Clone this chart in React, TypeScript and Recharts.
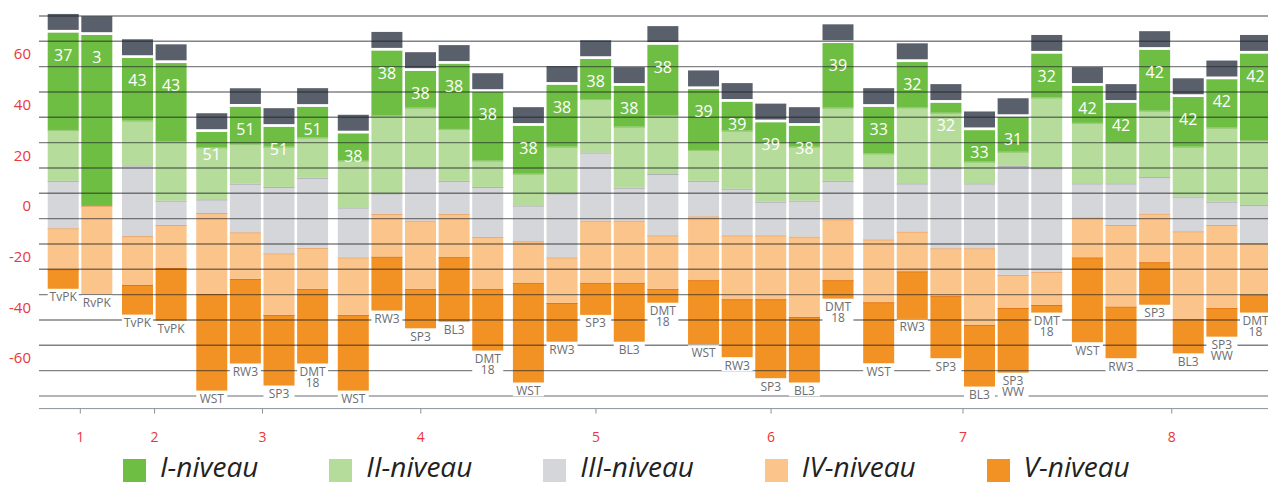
import React from 'react'
import { BarChart, Bar, XAxis, YAxis, CartesianGrid, LabelList } from 'recharts'

// bars per group (x-axis categories 1..8)
const groupSizes = [2, 2, 4, 5, 5, 5, 6, 6]
const groupNames = ['1', '2', '3', '4', '5', '6', '7', '8']

const siteLabels = [
    'TvPK', 'RvPK', 'TvPK', 'TvPK',
    'WST', 'RW3', 'SP3', 'DMT 18',
    'WST', 'RW3', 'SP3', 'BL3', 'DMT 18',
    'WST', 'RW3', 'SP3', 'BL3', 'DMT 18',
    'WST', 'RW3', 'SP3', 'BL3', 'DMT 18',
    'WST', 'RW3', 'SP3', 'BL3', 'SP3 WW', 'DMT 18',
    'WST', 'RW3', 'SP3', 'BL3', 'SP3 WW', 'DMT 18'
]

const scoreLabels = [
    37, 3, 43, 43,
    51, 51, 51, 51,
    38, 38, 38, 38, 38,
    38, 38, 38, 38, 38,
    39, 39, 39, 38, 39,
    33, 32, 32, 33, 31, 32,
    42, 42, 42, 42, 42, 42
]

// upper edge of each level (I = top of stack), bottom = lower edge of V
const topI = [
    68.4, 67.5, 58.4, 56.4,
    29.2, 39.1, 31.2, 39.1,
    28.6, 61.3, 53.3, 56.1, 45.0,
    31.6, 47.8, 58.0, 47.4, 63.6,
    46.1, 41.1, 33.0, 31.6, 64.3,
    39.1, 56.8, 40.7, 29.9, 35.1, 60.1,
    47.4, 40.7, 61.6, 43.0, 50.0, 60.1
]
const topII = [
    30.0, 0, 33.7, 25.6,
    23.1, 24.5, 23.4, 27.0,
    17.9, 35.8, 38.8, 30.4, 17.9,
    12.7, 23.4, 42.2, 31.3, 35.8,
    22.1, 29.7, 25.0, 23.4, 38.8,
    20.7, 38.9, 36.8, 17.5, 21.4, 42.8,
    32.8, 25.0, 37.6, 23.4, 30.9, 25.9
]
const topIII = [
    9.9, 0, 16.0, 2.1,
    2.6, 8.8, 7.5, 11.1,
    -0.6, 5.0, 14.9, 9.9, 7.5,
    0.2, 5.0, 21.1, 7.2, 12.6,
    9.9, 6.8, 1.7, 2.1, 9.9,
    14.9, 8.9, 14.9, 8.9, 15.8, 14.9,
    8.9, 8.9, 11.4, 3.7, 1.7, 0.4
]
const topIV = [
    -8.8, 0, -11.9, -7.5,
    -2.8, -10.4, -18.7, -16.5,
    -20.3, -3.2, -5.8, -3.2, -12.2,
    -13.9, -20.3, -5.8, -5.8, -11.6,
    -4.1, -11.6, -11.6, -12.1, -5.3,
    -13.2, -10.1, -16.7, -16.7, -27.2, -26.0,
    -4.5, -7.5, -3.0, -10.0, -7.5, -14.7
]
const topV = [
    -25.0, -34.9, -31.2, -24.4,
    -34.7, -28.8, -43.0, -32.7,
    -43.0, -20.0, -32.7, -20.2, -32.8,
    -30.3, -38.3, -30.3, -30.3, -32.7,
    -29.3, -36.8, -36.8, -43.8, -29.3,
    -38.0, -25.8, -35.4, -47.0, -40.3, -39.1,
    -20.3, -39.7, -22.2, -44.6, -40.2, -35.0
]
const bottom = [
    -32.7, -34.9, -42.9, -45.3,
    -72.9, -62.2, -70.9, -62.2,
    -72.9, -41.3, -48.3, -45.7, -57.1,
    -69.7, -53.6, -43.0, -53.6, -38.2,
    -54.6, -59.7, -68.0, -69.7, -36.6,
    -62.1, -44.6, -60.1, -71.3, -65.8, -42.1,
    -53.8, -60.1, -39.0, -58.2, -51.6, -42.1
]

const CAP_GAP = 1.1
const CAP = 6.3
const GROUP_GAP = 0.21

const yTicks = [-60, -40, -20, 0, 20, 40, 60]
const gridValues = [-75, -70, -65, -60, -55, -50, -45, -40, -35, -30, -25, -20, -15, -10, -5, 0, 5, 10, 15, 20, 25, 30, 35, 40, 45, 50, 55, 60, 65, 70, 75]

const COLORS = {
    I: '#6fbe44',
    II: '#b6dc9c',
    III: '#d5d6da',
    IV: '#fbc48b',
    V: '#f39224',
    cap: '#5a606b'
}
const EDGES = { II: '#95c774', III: '#aeb0b5', IV: '#e9a66c', V: '#e27412' }
const RED = '#e8373d'

const legendItems = [
    { name: 'I-niveau', color: COLORS.I },
    { name: 'II-niveau', color: COLORS.II },
    { name: 'III-niveau', color: COLORS.III },
    { name: 'IV-niveau', color: COLORS.IV },
    { name: 'V-niveau', color: COLORS.V }
]

// build table
const rows: any[] = []
const groupTicks: number[] = []
let n = 0
groupSizes.forEach((size, g) => {
    const first = n + g * GROUP_GAP
    for (let k = 0; k < size; k++) {
        const i = n
        rows.push({
            pos: i + g * GROUP_GAP,
            site: siteLabels[i],
            score: scoreLabels[i],
            base: bottom[i],
            V: topV[i] - bottom[i],
            IV: topIV[i] - topV[i],
            III: topIII[i] - topIV[i],
            II: topII[i] - topIII[i],
            I: topI[i] - topII[i],
            gap: CAP_GAP,
            cap: CAP
        })
        n++
    }
    groupTicks.push((first + (n - 1 + g * GROUP_GAP)) / 2)
})

const segment = (edge?: string) => (props: any) => {
    const { x, y, width, height, fill } = props
    if (!height) return <g />
    const top = Math.min(y, y + height)
    const h = Math.abs(height)
    return (
        <g>
            <rect x={x} y={top} width={width} height={h} fill={fill} />
            {edge && <line x1={x} x2={x + width} y1={top + 0.5} y2={top + 0.5} stroke={edge} strokeWidth={1} />}
        </g>
    )
}

const ScoreLabel = (props: any) => {
    const { x, y, width, height, value } = props
    const top = Math.min(y, y + height)
    return (
        <text x={x + width / 2} y={top + 22} textAnchor="middle" dominantBaseline="central"
            fill="#fff" fontSize={16} fontFamily="Open Sans">
            {value}
        </text>
    )
}

// site name under the stack, white box cuts the grid lines
const SiteLabel = (props: any) => {
    const { x, y, width, height, value } = props
    const lines = String(value).split(' ')
    const b = Math.max(y, y + height)
    return (
        <g>
            <rect x={x} y={b + 1} width={width} height={lines.length * 10.8 + 2} fill="#fff" />
            <text x={x + width / 2} y={b + 7.5} textAnchor="middle" dominantBaseline="central"
                fill="#6b6d71" fontSize={12} fontFamily="Open Sans">
                {lines.map((t, i) => (
                    <tspan key={i} x={x + width / 2} dy={i === 0 ? 0 : 10.8}>{t}</tspan>
                ))}
            </text>
        </g>
    )
}

const gridLine = (props: any) => {
    const { x1, x2, y1, index } = props
    const outer = index === 0 || index === gridValues.length - 1
    return (
        <line key={`g-${index}`} x1={x1} x2={x2} y1={y1} y2={y1}
            stroke={outer ? '#b3b5b8' : 'rgba(30,33,38,0.56)'} strokeWidth={outer ? 2 : 1.4} />
    )
}

export default function App() {
    return (
        <div style={{ position: 'fixed', left: 0, top: 0, width: 1268, height: 485, overflow: 'hidden', background: '#fff', fontFamily: 'Open Sans' }}>
            <BarChart width={1281} height={449} data={rows} margin={{ top: 3.3, right: 0, bottom: 0.4, left: 0 }} barSize={31}>
                <XAxis
                    type="number"
                    dataKey="pos"
                    domain={[-0.729, 36.22]}
                    allowDataOverflow
                    ticks={groupTicks}
                    tickFormatter={(v: number) => groupNames[groupTicks.findIndex(t => Math.abs(t - v) < 1e-6)] ?? ''}
                    height={40}
                    stroke="#8b929b"
                    tickSize={5}
                    tickMargin={18}
                    tick={{ fill: RED, fontSize: 14, fontFamily: 'Open Sans' }}
                />
                <YAxis
                    type="number"
                    domain={[-80, 80]}
                    ticks={yTicks}
                    width={39}
                    axisLine={false}
                    tickLine={false}
                    tick={{ fill: RED, fontSize: 15, fontFamily: 'Open Sans' }}
                />
                <Bar dataKey="base" stackId="s" fill="transparent" isAnimationActive={false}>
                    <LabelList dataKey="site" content={<SiteLabel />} />
                </Bar>
                <Bar dataKey="V" stackId="s" fill={COLORS.V} shape={segment(EDGES.V)} isAnimationActive={false} />
                <Bar dataKey="IV" stackId="s" fill={COLORS.IV} shape={segment(EDGES.IV)} isAnimationActive={false} />
                <Bar dataKey="III" stackId="s" fill={COLORS.III} shape={segment(EDGES.III)} isAnimationActive={false} />
                <Bar dataKey="II" stackId="s" fill={COLORS.II} shape={segment(EDGES.II)} isAnimationActive={false} />
                <Bar dataKey="I" stackId="s" fill={COLORS.I} shape={segment()} isAnimationActive={false}>
                    <LabelList dataKey="score" content={<ScoreLabel />} />
                </Bar>
                <Bar dataKey="gap" stackId="s" fill="transparent" isAnimationActive={false} />
                <Bar dataKey="cap" stackId="s" fill={COLORS.cap} isAnimationActive={false} />
                <CartesianGrid vertical={false} horizontalValues={gridValues} horizontal={gridLine} zIndex={350} />
            </BarChart>
            <div style={{ position: 'absolute', left: 123, top: 447, display: 'flex', alignItems: 'center', gap: 67, height: 38 }}>
                {legendItems.map(item => (
                    <div key={item.name} style={{ display: 'flex', alignItems: 'center' }}>
                        <div style={{ width: 23, height: 23, background: item.color, marginRight: 14, marginTop: 8 }} />
                        <span style={{ fontSize: 28, lineHeight: '38px', fontStyle: 'italic', color: '#222', paddingRight: 4 }}>{item.name}</span>
                    </div>
                ))}
            </div>
        </div>
    )
}
